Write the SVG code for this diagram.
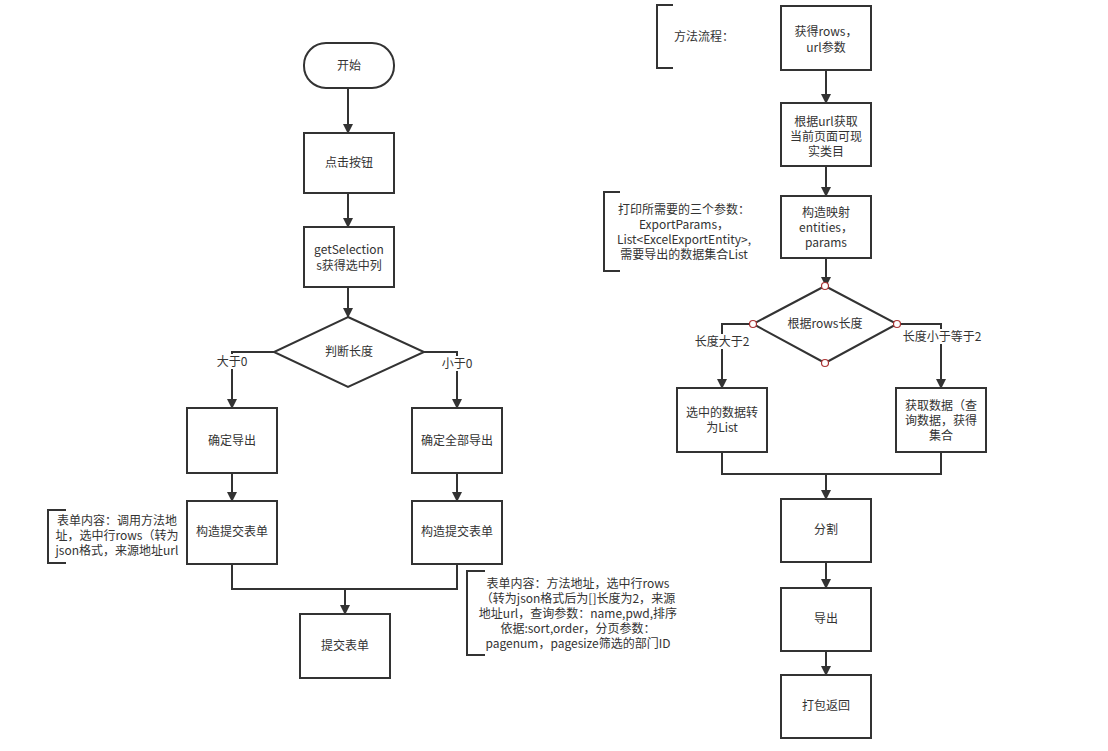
<svg xmlns="http://www.w3.org/2000/svg" width="1108" height="751" viewBox="0 0 1108 751">
<style>
.n{fill:#fff;stroke:#333;stroke-width:2}
.c{fill:none;stroke:#333;stroke-width:2}
.b{fill:none;stroke:#333;stroke-width:2}
text{font-family:"Noto Sans CJK SC","Liberation Sans",sans-serif;font-size:12px;fill:#333}
.m{text-anchor:middle}
.pt{fill:#fff;stroke:#a33;stroke-width:1.2}
.lb{fill:#fff}
</style>
<defs>
<marker id="ar" markerUnits="userSpaceOnUse" markerWidth="10" markerHeight="12" refX="9" refY="5" orient="auto">
<path d="M0,0 L10,5 L0,10 Z" fill="#333"/>
</marker>
</defs>
<rect width="1108" height="751" fill="#fff"/>
<g id="connectors">
<path class="c" d="M348 88 V133" marker-end="url(#ar)"/>
<path class="c" d="M348 193 V227" marker-end="url(#ar)"/>
<path class="c" d="M348 287 V317" marker-end="url(#ar)"/>
<path class="c" d="M274 352 H232 V408" marker-end="url(#ar)"/>
<path class="c" d="M424 352 H457 V408" marker-end="url(#ar)"/>
<path class="c" d="M232 473 V501" marker-end="url(#ar)"/>
<path class="c" d="M457 473 V501" marker-end="url(#ar)"/>
<path class="c" d="M232 564 V589 H457 V564"/>
<path class="c" d="M345 589 V614" marker-end="url(#ar)"/>
<path class="c" d="M826 70 V103" marker-end="url(#ar)"/>
<path class="c" d="M826 166 V196" marker-end="url(#ar)"/>
<path class="c" d="M826 258 V286" marker-end="url(#ar)"/>
<path class="c" d="M753 324 H722 V388" marker-end="url(#ar)"/>
<path class="c" d="M897 324 H941 V388" marker-end="url(#ar)"/>
<path class="c" d="M722 452 V474 H941 V452"/>
<path class="c" d="M826 474 V499" marker-end="url(#ar)"/>
<path class="c" d="M826 562 V588" marker-end="url(#ar)"/>
<path class="c" d="M826 651 V675" marker-end="url(#ar)"/>
<rect class="lb" x="214" y="354" width="36" height="15"/>
<text class="m" x="232" y="366">大于0</text>
<rect class="lb" x="439" y="356" width="36" height="15"/>
<text class="m" x="457" y="368">小于0</text>
<rect class="lb" x="694" y="334" width="56" height="15"/>
<text class="m" x="722" y="346">长度大于2</text>
<rect class="lb" x="903" y="329" width="78" height="15"/>
<text class="m" x="942" y="341">长度小于等于2</text>
</g>
<g id="start">
<rect class="n" x="304" y="43" width="90" height="45" rx="22" ry="22"/>
<text class="m" x="349" y="70">开始</text>
</g>
<g id="click">
<rect class="n" x="304" y="133" width="90" height="60"/>
<text class="m" x="349" y="167">点击按钮</text>
</g>
<g id="getsel">
<rect class="n" x="304" y="227" width="90" height="60"/>
<text class="m" x="349" y="254">getSelection</text>
<text class="m" x="349" y="270">s获得选中列</text>
</g>
<g id="judge">
<path class="n" d="M348 317 L424 352 L348 387 L274 352 Z"/>
<text class="m" x="349" y="356">判断长度</text>
</g>
<g id="confirm">
<rect class="n" x="187" y="408" width="90" height="65"/>
<text class="m" x="232" y="445">确定导出</text>
</g>
<g id="confirmAll">
<rect class="n" x="412" y="408" width="90" height="65"/>
<text class="m" x="457" y="445">确定全部导出</text>
</g>
<g id="buildL">
<rect class="n" x="187" y="501" width="90" height="63"/>
<text class="m" x="232" y="536">构造提交表单</text>
</g>
<g id="buildR">
<rect class="n" x="412" y="501" width="90" height="63"/>
<text class="m" x="457" y="536">构造提交表单</text>
</g>
<g id="submit">
<rect class="n" x="300" y="614" width="90" height="64"/>
<text class="m" x="345" y="650">提交表单</text>
</g>
<g id="noteL">
<path class="b" d="M66 510 H48 V563 H66"/>
<text class="m" x="117" y="525">表单内容：调用方法地</text>
<text class="m" x="117" y="540">址，选中行rows（转为</text>
<text class="m" x="117" y="555">json格式，来源地址url</text>
</g>
<g id="noteR">
<path class="b" d="M485 571 H467 V655 H485"/>
<text class="m" x="578" y="588">表单内容：方法地址，选中行rows</text>
<text class="m" x="578" y="603">（转为json格式后为[]长度为2，来源</text>
<text class="m" x="578" y="618">地址url，查询参数：name,pwd,排序</text>
<text class="m" x="578" y="633">依据:sort,order，分页参数：</text>
<text class="m" x="578" y="648">pagenum，pagesize筛选的部门ID</text>
</g>
<g id="noteFlow">
<path class="b" d="M673 5 H657 V68 H673"/>
<text x="674" y="41">方法流程：</text>
</g>
<g id="getRows">
<rect class="n" x="781" y="6" width="90" height="64"/>
<text class="m" x="826" y="36">获得rows，</text>
<text class="m" x="826" y="52">url参数</text>
</g>
<g id="getCat">
<rect class="n" x="781" y="103" width="90" height="63"/>
<text class="m" x="826" y="126">根据url获取</text>
<text class="m" x="826" y="141">当前页面可现</text>
<text class="m" x="826" y="156">实类目</text>
</g>
<g id="buildMap">
<rect class="n" x="781" y="196" width="90" height="62"/>
<text class="m" x="826" y="217">构造映射</text>
<text class="m" x="826" y="232">entities，</text>
<text class="m" x="826" y="247">params</text>
</g>
<g id="noteParams">
<path class="b" d="M620 192 H604 V271 H620"/>
<text class="m" x="684" y="214">打印所需要的三个参数：</text>
<text class="m" x="684" y="229">ExportParams，</text>
<text class="m" x="684" y="244">List&lt;ExcelExportEntity&gt;,</text>
<text class="m" x="684" y="259">需要导出的数据集合List</text>
</g>
<g id="byLen">
<path class="n" d="M825 286 L897 324 L825 363 L753 324 Z"/>
<text class="m" x="825" y="328">根据rows长度</text>
<circle class="pt" cx="825" cy="286" r="3.5"/>
<circle class="pt" cx="897" cy="324" r="3.5"/>
<circle class="pt" cx="825" cy="363" r="3.5"/>
<circle class="pt" cx="753" cy="324" r="3.5"/>
</g>
<g id="toList">
<rect class="n" x="677" y="388" width="90" height="64"/>
<text class="m" x="722" y="417">选中的数据转</text>
<text class="m" x="722" y="432">为List</text>
</g>
<g id="query">
<rect class="n" x="896" y="388" width="90" height="64"/>
<text class="m" x="941" y="410">获取数据（查</text>
<text class="m" x="941" y="425">询数据，获得</text>
<text class="m" x="941" y="440">集合</text>
</g>
<g id="split">
<rect class="n" x="781" y="499" width="90" height="63"/>
<text class="m" x="826" y="534">分割</text>
</g>
<g id="export">
<rect class="n" x="781" y="588" width="90" height="63"/>
<text class="m" x="826" y="623">导出</text>
</g>
<g id="pack">
<rect class="n" x="781" y="675" width="90" height="63"/>
<text class="m" x="826" y="710">打包返回</text>
</g>
</svg>
